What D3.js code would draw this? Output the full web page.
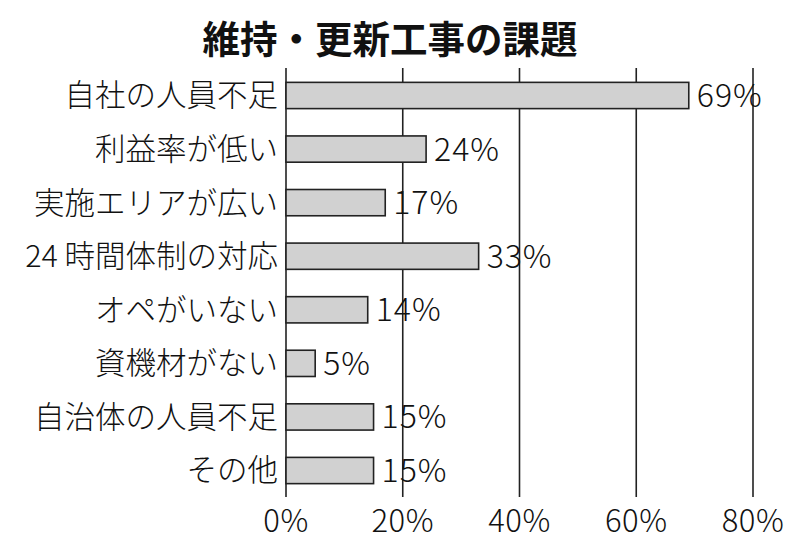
<!DOCTYPE html>
<html lang="ja">
<head>
<meta charset="utf-8">
<script src="https://cdn.jsdelivr.net/npm/d3@7"></script>
<style>
  body { margin: 0; background: #fff; }
  text { font-family: "Noto Sans CJK JP", "Noto Sans", sans-serif; }
</style>
</head>
<body>
<svg id="chart" width="800" height="549"></svg>
<script>
// データ
const categories = ["自社の人員不足", "利益率が低い", "実施エリアが広い", "24 時間体制の対応",
                    "オペがいない", "資機材がない", "自治体の人員不足", "その他"];
const values = [69, 24, 17, 33, 14, 5, 15, 15];
const ticks = [0, 20, 40, 60, 80];
const title = "維持・更新工事の課題";

const svg = d3.select("#chart");
const plotLeft = 286, plotRight = 753;
const plotTop = 68, plotBottom = 497;

const x = d3.scaleLinear().domain([0, 80]).range([plotLeft, plotRight]);
const y = d3.scaleBand().domain(categories).range([68.7, 497.3]).paddingInner(0.51).paddingOuter(0.255);

// タイトル
svg.append("text")
    .attr("x", 390)
    .attr("y", 53)
    .attr("text-anchor", "middle")
    .attr("font-size", 37.5)
    .attr("font-weight", "bold")
    .attr("fill", "#111")
    .text(title);

// グリッド線
svg.append("g")
    .selectAll("line")
    .data(ticks)
    .join("line")
    .attr("x1", d => x(d))
    .attr("x2", d => x(d))
    .attr("y1", plotTop)
    .attr("y2", plotBottom)
    .attr("stroke", "#222")
    .attr("stroke-width", 1.6);

// 棒
svg.append("g")
    .selectAll("rect")
    .data(values)
    .join("rect")
    .attr("x", x(0))
    .attr("y", (d, i) => y(categories[i]))
    .attr("width", d => x(d) - x(0))
    .attr("height", y.bandwidth())
    .attr("fill", "#d1d1d1")
    .attr("stroke", "#222")
    .attr("stroke-width", 1.6);

// カテゴリラベル
svg.append("g")
    .selectAll("text")
    .data(categories)
    .join("text")
    .attr("x", 278)
    .attr("y", d => y(d) + y.bandwidth() / 2)
    .attr("dy", "0.36em")
    .attr("text-anchor", "end")
    .attr("font-size", 30.5)
    .attr("font-weight", 300)
    .attr("fill", "#111")
    .text(d => d);

// 値ラベル
svg.append("g")
    .selectAll("text")
    .data(values)
    .join("text")
    .attr("x", d => x(d) + 8)
    .attr("y", (d, i) => y(categories[i]) + y.bandwidth() / 2)
    .attr("dy", "0.36em")
    .attr("font-size", 32)
    .attr("letter-spacing", 1)
    .attr("font-weight", 300)
    .attr("fill", "#111")
    .text(d => d + "%");

// 軸ラベル
svg.append("g")
    .selectAll("text")
    .data(ticks)
    .join("text")
    .attr("x", d => x(d))
    .attr("y", 532)
    .attr("text-anchor", "middle")
    .attr("font-size", 31)
    .attr("letter-spacing", 0.5)
    .attr("font-weight", 300)
    .attr("fill", "#111")
    .text(d => d + "%");
</script>
</body>
</html>
